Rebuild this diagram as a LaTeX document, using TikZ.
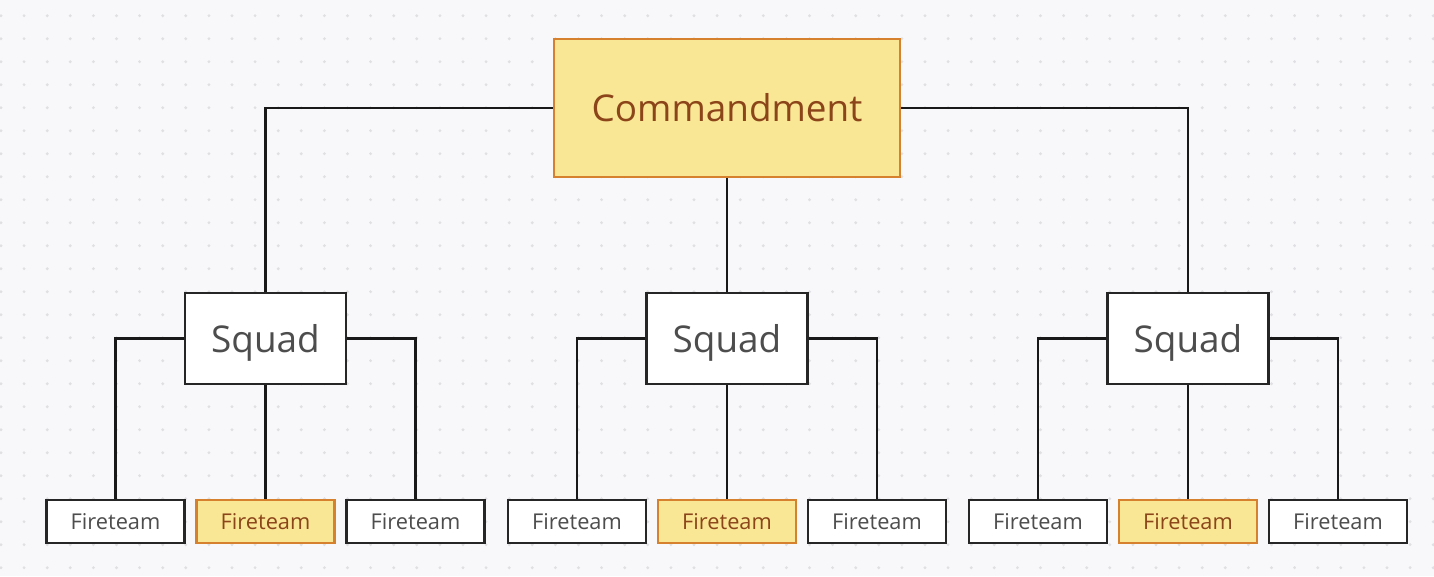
\documentclass[tikz,border=0pt]{standalone}
\usepackage{fontspec}
\setmainfont{Open Sans}

\definecolor{paper}{HTML}{F8F8FA}
\definecolor{griddot}{HTML}{E0E0E4}
\definecolor{leadfill}{HTML}{F9E796}
\definecolor{leaddraw}{HTML}{D6812E}
\definecolor{leadtext}{HTML}{8B4519}
\definecolor{unittext}{HTML}{4D4D4D}

\begin{document}
\begin{tikzpicture}[x=0.02cm,y=-0.02cm]

\tikzset{%
every unit/.style={
rectangle,
draw=black!85,
fill=white,
line width=1.2pt,
text=unittext,
inner sep=0pt
},
lead unit/.style={
fill=leadfill,
draw=leaddraw,
text=leadtext
},
command box/.style={
minimum width=6.92cm,
minimum height=2.76cm,
font=\fontsize{21}{25}\selectfont
},
squad box/.style={
minimum width=3.22cm,
minimum height=1.82cm,
text depth=0pt,
font=\fontsize{21}{25}\selectfont
},
team box/.style={
minimum width=2.76cm,
minimum height=0.86cm,
font=\fontsize{12.4}{14}\selectfont
},
link/.style={
draw=black!90,
line width=1.2pt
}
}

% Background and dot grid
\fill [paper] (0,0) rectangle (1434,576);
\useasboundingbox (0,0) rectangle (1434,576);
\foreach \i in {0,...,62}
\foreach \j in {0,...,24}
\fill [griddot] (1+23.1*\i,15.7+23*\j) circle (1.6);

% Commandment
\node [every unit, lead unit, command box] (cmd) at (727,108) {Commandment};

% Squads and their fireteams
\foreach \x [count=\s] in {265.5,727,1188} {
\node [every unit, squad box] (sq-\s) at (\x,338.5) {Squad};
\node [every unit, team box] (ft-\s-1) at (\x-150,521.5) {Fireteam};
\node [every unit, lead unit, team box] (ft-\s-2) at (\x,521.5) {Fireteam};
\node [every unit, team box] (ft-\s-3) at (\x+150,521.5) {Fireteam};
}

% Links from Commandment to the squads
\draw [link] (cmd.west) -| (sq-1.north);
\draw [link] (cmd.south) -- (sq-2.north);
\draw [link] (cmd.east) -| (sq-3.north);

% Links from each squad to its fireteams
\foreach \s in {1,2,3} {
\draw [link] (sq-\s.west) -| (ft-\s-1.north);
\draw [link] (sq-\s.south) -- (ft-\s-2.north);
\draw [link] (sq-\s.east) -| (ft-\s-3.north);
}

\end{tikzpicture}
\end{document}
